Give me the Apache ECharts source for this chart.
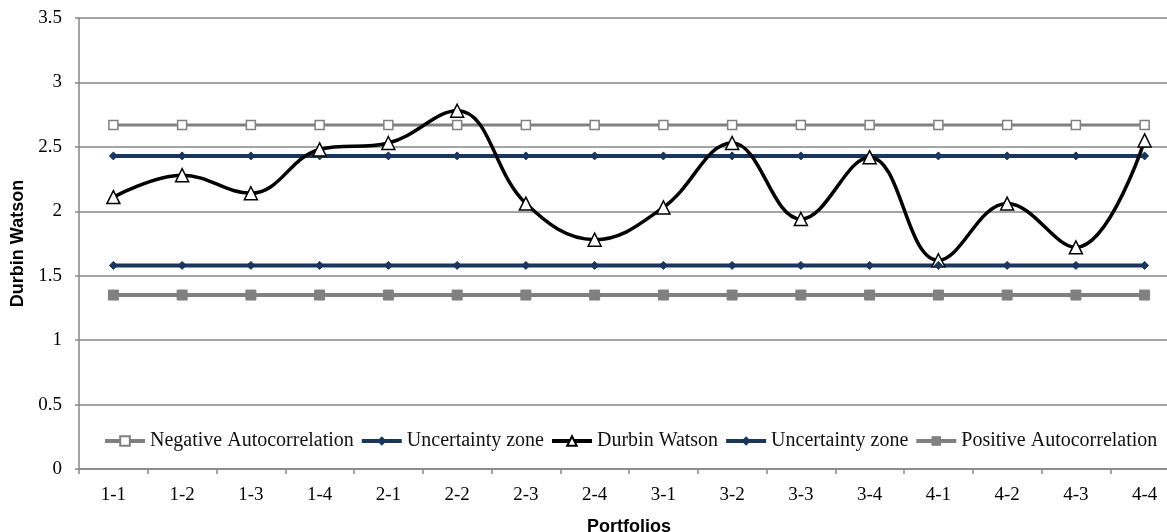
<!DOCTYPE html>
<html>
<head>
<meta charset="utf-8">
<script src="https://cdn.jsdelivr.net/npm/echarts@6/dist/echarts.min.js"></script>
<style>
html,body{margin:0;padding:0;background:#fff;}
#c{width:1167px;height:532px;}
</style>
</head>
<body>
<div id="c"></div>
<script>
var categories = ['1-1','1-2','1-3','1-4','2-1','2-2','2-3','2-4','3-1','3-2','3-3','3-4','4-1','4-2','4-3','4-4'];
var negativeAuto = [2.67,2.67,2.67,2.67,2.67,2.67,2.67,2.67,2.67,2.67,2.67,2.67,2.67,2.67,2.67,2.67];
var upperUncertainty = [2.43,2.43,2.43,2.43,2.43,2.43,2.43,2.43,2.43,2.43,2.43,2.43,2.43,2.43,2.43,2.43];
var durbinWatson = [2.11,2.28,2.14,2.48,2.53,2.78,2.06,1.78,2.03,2.53,1.94,2.42,1.62,2.06,1.72,2.55];
var lowerUncertainty = [1.58,1.58,1.58,1.58,1.58,1.58,1.58,1.58,1.58,1.58,1.58,1.58,1.58,1.58,1.58,1.58];
var positiveAuto = [1.35,1.35,1.35,1.35,1.35,1.35,1.35,1.35,1.35,1.35,1.35,1.35,1.35,1.35,1.35,1.35];
var yTicks = {min: 0, max: 3.5, interval: 0.5};

var GRID = '#878787', NAVY = '#1B365D', GREY = '#808080';
var serif = '"Liberation Serif","Times New Roman",serif';
var sans = '"Liberation Sans",Arial,sans-serif';

var chart = echarts.init(document.getElementById('c'), null, {renderer: 'canvas'});
chart.setOption({
  animation: false,
  backgroundColor: '#fff',
  grid: {left: 79, top: 18, width: 1100, height: 451, containLabel: false, outerBoundsMode: 'none'},
  legend: {
    left: 103, top: 431, width: 1150, padding: 0,
    itemWidth: 40, itemHeight: 12, itemGap: 6,
    lineStyle: {width: 4},
    textStyle: {fontFamily: serif, fontSize: 20, color: '#111'},
    data: ['Negative Autocorrelation', 'Uncertainty zone', 'Durbin Watson', 'Uncertainty zone ', 'Positive Autocorrelation'],
    formatter: function (n) { return n.trim(); }
  },
  xAxis: {
    type: 'category',
    data: categories,
    boundaryGap: true,
    name: 'Portfolios',
    nameLocation: 'middle',
    nameGap: 49,
    nameTextStyle: {fontFamily: sans, fontWeight: 'bold', fontSize: 18, color: '#000'},
    axisLine: {lineStyle: {color: GRID, width: 1.5}},
    axisTick: {show: true, interval: 0, length: 5, lineStyle: {color: GRID, width: 1.5}},
    axisLabel: {interval: 0, margin: 17, fontFamily: serif, fontSize: 19, color: '#000'},
    splitLine: {show: false}
  },
  yAxis: {
    type: 'value',
    min: yTicks.min, max: yTicks.max, interval: yTicks.interval,
    name: 'Durbin Watson',
    nameLocation: 'middle',
    nameGap: 47,
    nameRotate: 90,
    nameTextStyle: {fontFamily: sans, fontWeight: 'bold', fontSize: 18, color: '#000'},
    axisLine: {show: true, lineStyle: {color: GRID, width: 1.5}},
    axisTick: {show: true, length: 4, lineStyle: {color: GRID, width: 1.5}},
    axisLabel: {margin: 17, fontFamily: serif, fontSize: 19, color: '#000'},
    splitLine: {show: true, lineStyle: {color: GRID, width: 1.5}}
  },
  series: [
    {
      name: 'Negative Autocorrelation', type: 'line', data: negativeAuto,
      symbol: 'rect', symbolSize: 9,
      lineStyle: {color: GREY, width: 3},
      itemStyle: {color: '#fff', borderColor: GREY, borderWidth: 1.5}
    },
    {
      name: 'Uncertainty zone', type: 'line', data: upperUncertainty,
      symbol: 'diamond', symbolSize: 8,
      lineStyle: {color: NAVY, width: 4},
      itemStyle: {color: NAVY, borderColor: NAVY}
    },
    {
      name: 'Durbin Watson', type: 'line', data: durbinWatson,
      smooth: 0.4,
      symbol: 'triangle', symbolSize: 13,
      lineStyle: {color: '#000', width: 3.5},
      itemStyle: {color: '#fff', borderColor: '#000', borderWidth: 1.5},
      z: 3
    },
    {
      name: 'Uncertainty zone ', type: 'line', data: lowerUncertainty,
      symbol: 'diamond', symbolSize: 8,
      lineStyle: {color: NAVY, width: 4},
      itemStyle: {color: NAVY, borderColor: NAVY}
    },
    {
      name: 'Positive Autocorrelation', type: 'line', data: positiveAuto,
      symbol: 'rect', symbolSize: 10,
      lineStyle: {color: GREY, width: 4},
      itemStyle: {color: GREY, borderColor: GREY}
    }
  ]
});
</script>
</body>
</html>
